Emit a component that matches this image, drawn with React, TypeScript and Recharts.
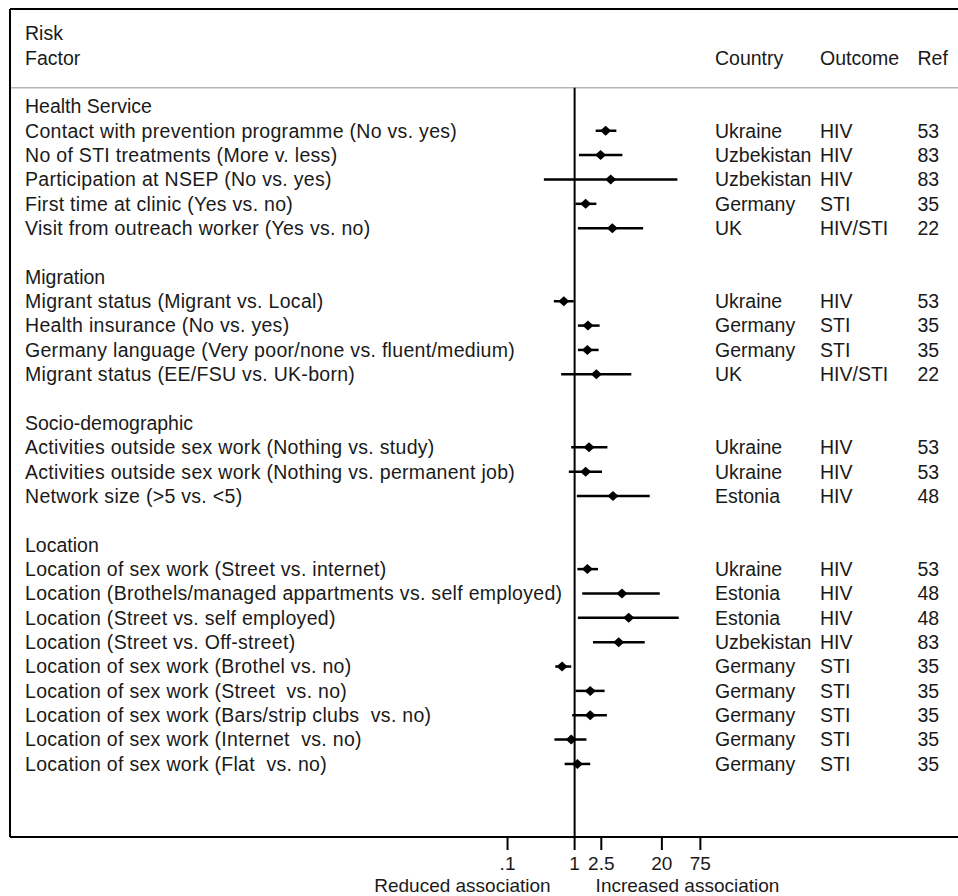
import { ScatterChart, Scatter, XAxis, YAxis, ErrorBar, ReferenceLine } from "recharts"

const sections = ["Health Service", "Migration", "Socio-demographic", "Location"]

const sectionSizes = [5, 4, 3, 9]

const factors = [
  "Contact with prevention programme (No vs. yes)",
  "No of STI treatments (More v. less)",
  "Participation at NSEP (No vs. yes)",
  "First time at clinic (Yes vs. no)",
  "Visit from outreach worker (Yes vs. no)",
  "Migrant status (Migrant vs. Local)",
  "Health insurance (No vs. yes)",
  "Germany language (Very poor/none vs. fluent/medium)",
  "Migrant status (EE/FSU vs. UK-born)",
  "Activities outside sex work (Nothing vs. study)",
  "Activities outside sex work (Nothing vs. permanent job)",
  "Network size (>5 vs. <5)",
  "Location of sex work (Street vs. internet)",
  "Location (Brothels/managed appartments vs. self employed)",
  "Location (Street vs. self employed)",
  "Location (Street vs. Off-street)",
  "Location of sex work (Brothel vs. no)",
  "Location of sex work (Street  vs. no)",
  "Location of sex work (Bars/strip clubs  vs. no)",
  "Location of sex work (Internet  vs. no)",
  "Location of sex work (Flat  vs. no)",
]

const countries = [
  "Ukraine", "Uzbekistan", "Uzbekistan", "Germany", "UK",
  "Ukraine", "Germany", "Germany", "UK",
  "Ukraine", "Ukraine", "Estonia",
  "Ukraine", "Estonia", "Estonia", "Uzbekistan", "Germany", "Germany", "Germany", "Germany", "Germany",
]

const outcomes = [
  "HIV", "HIV", "HIV", "STI", "HIV/STI",
  "HIV", "STI", "STI", "HIV/STI",
  "HIV", "HIV", "HIV",
  "HIV", "HIV", "HIV", "HIV", "STI", "STI", "STI", "STI", "STI",
]

const refs = [
  53, 83, 83, 35, 22,
  53, 35, 35, 22,
  53, 53, 48,
  53, 48, 48, 83, 35, 35, 35, 35, 35,
]

// odds ratios with 95% CI
const estimates = [2.9, 2.44, 3.45, 1.46, 3.65, 0.69, 1.58, 1.55, 2.11, 1.64, 1.46, 3.73, 1.55, 5.08, 6.4, 4.54, 0.65, 1.71, 1.71, 0.89, 1.1]
const lower = [2.06, 1.16, 0.348, 1.03, 1.12, 0.49, 1.12, 1.12, 0.63, 0.89, 0.82, 1.08, 1.1, 1.3, 1.12, 1.88, 0.515, 1.03, 0.92, 0.5, 0.71]
const upper = [4.19, 5.15, 34.1, 2.11, 10.5, 0.97, 2.36, 2.28, 7.0, 3.08, 2.56, 13.2, 2.23, 18.6, 35.7, 11.1, 0.89, 2.8, 3.03, 1.5, 1.71]

const xTicks = [0.1, 1, 2.5, 20, 75]

const FONT = "'Liberation Sans', Arial, Helvetica, sans-serif"
const FS = 19.5
const TXT = "#1a1a1a"

// x domain chosen so the plot region spans the whole frame
const X_MIN = Math.pow(10, -8.418)
const X_MAX = Math.pow(10, 5.716)
const Y_DOMAIN = [-4, 30]
const SEP_ROW = -0.77

type Label = { factor: string; country?: string; outcome?: string; ref?: string; item?: boolean }

const labels = new Map<number, Label>()
labels.set(-3, { factor: "Risk" })
labels.set(-2, { factor: "Factor", country: "Country", outcome: "Outcome", ref: "Ref" })

const points: any[] = []
let row = 0
let idx = 0
sections.forEach((s, si) => {
  labels.set(row, { factor: s })
  row++
  for (let k = 0; k < sectionSizes[si]; k++) {
    labels.set(row, {
      factor: factors[idx],
      country: countries[idx],
      outcome: outcomes[idx],
      ref: String(refs[idx]),
      item: true,
    })
    points.push({
      row,
      or: estimates[idx],
      err: [estimates[idx] - lower[idx], upper[idx] - estimates[idx]],
    })
    row++
    idx++
  }
  row++
})

const rowTicks = Array.from(labels.keys())

function RowTick(props: any) {
  const { y, payload } = props
  const l = labels.get(payload.value)
  if (!l) return null
  const common = { y, dy: "0.35em", fontFamily: FONT, fontSize: FS, fill: TXT }
  return (
    <g>
      <text x={17} {...common} style={{ whiteSpace: "pre", letterSpacing: l.item ? 0.3 : 0 }}>
        {l.factor}
      </text>
      {l.country && <text x={707} {...common}>{l.country}</text>}
      {l.outcome && <text x={812} {...common}>{l.outcome}</text>}
      {l.ref && <text x={909.5} {...common}>{l.ref}</text>}
    </g>
  )
}

function AssocLabels(props: any) {
  const vb = props.viewBox
  if (!vb) return null
  const x = vb.x
  const y = vb.y + vb.height + 48
  return (
    <g fontFamily={FONT} fontSize={19} fill={TXT}>
      <text x={x - 24} y={y} dy="0.35em" textAnchor="end">Reduced association</text>
      <text x={x + 21} y={y} dy="0.35em" textAnchor="start">Increased association</text>
    </g>
  )
}

function Diamond(props: any) {
  const { cx, cy } = props
  return <path d={`M${cx},${cy - 5}L${cx + 5.5},${cy}L${cx},${cy + 5}L${cx - 5.5},${cy}Z`} fill="#000" />
}

const fmtTick = (v: number) => (v === 0.1 ? ".1" : String(v))

export default function App() {
  return (
    <div style={{ paddingLeft: 8, paddingTop: 8, width: 950, height: 888, background: "#fff" }}>
      <style>{`body{margin:0}`}</style>
      <ScatterChart width={950} height={888} margin={{ top: 0, right: 0, bottom: 0, left: 1 }}>
        <XAxis
          xAxisId="bottom"
          dataKey="or"
          type="number"
          scale="log"
          domain={[X_MIN, X_MAX]}
          allowDataOverflow
          ticks={xTicks}
          interval={0}
          tickFormatter={fmtTick}
          height={59}
          tickSize={13}
          tickMargin={7}
          axisLine={{ stroke: "#000", strokeWidth: 2 }}
          tickLine={{ stroke: "#000", strokeWidth: 2 }}
          tick={{ fontFamily: FONT, fontSize: 19, fill: TXT }}
        />
        <XAxis
          xAxisId="top"
          orientation="top"
          type="number"
          scale="log"
          domain={[X_MIN, X_MAX]}
          allowDataOverflow
          height={1}
          tick={false}
          tickLine={false}
          axisLine={{ stroke: "#000", strokeWidth: 2 }}
        />
        <YAxis
          dataKey="row"
          type="number"
          domain={Y_DOMAIN}
          reversed
          allowDataOverflow
          ticks={rowTicks}
          interval={0}
          width={1}
          tickLine={false}
          axisLine={{ stroke: "#000", strokeWidth: 2 }}
          tick={<RowTick />}
        />
        <ReferenceLine xAxisId="bottom" y={SEP_ROW} stroke="#b5b5b5" strokeWidth={1.5} />
        <ReferenceLine
          xAxisId="bottom"
          segment={[{ x: 1, y: SEP_ROW }, { x: 1, y: 30 }]}
          stroke="#000"
          strokeWidth={2}
          label={AssocLabels}
        />
        <Scatter xAxisId="bottom" data={points} shape={Diamond} isAnimationActive={false}>
          <ErrorBar dataKey="err" direction="x" width={0} stroke="#000" strokeWidth={2.5} />
        </Scatter>
      </ScatterChart>
    </div>
  )
}
